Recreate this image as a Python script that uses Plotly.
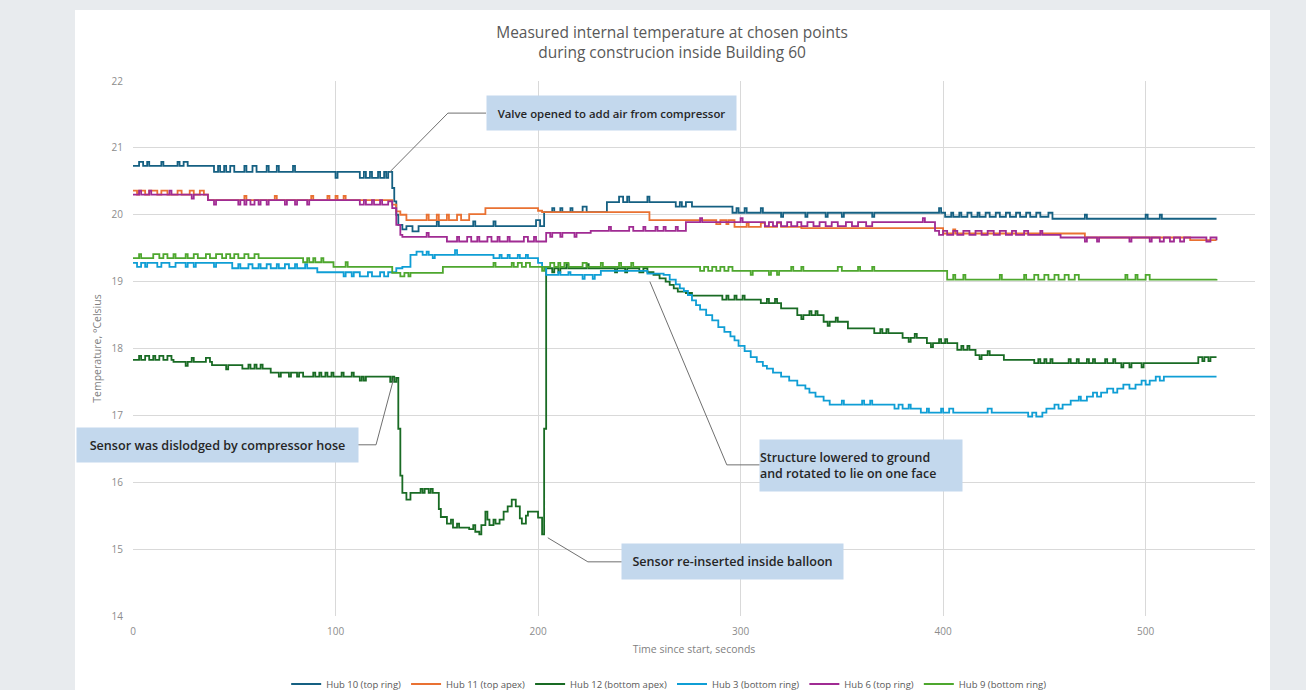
import plotly.graph_objects as go

# ---------------- data (time s, temperature °C) change points ----------------
series_names = ["Hub 10 (top ring)", "Hub 11 (top apex)", "Hub 12 (bottom apex)",
                "Hub 3 (bottom ring)", "Hub 6 (top ring)", "Hub 9 (bottom ring)"]
series_colors = ["#156082", "#E97132", "#196B24", "#0F9ED5", "#A02B93", "#4EA72E"]

hub10 = [(0,20.73),(3,20.79),(5,20.73),(7,20.79),(8,20.73),(14,20.79),(15,20.73),(22,20.79),(23,20.73),
         (25,20.79),(27,20.73),(40,20.64),(42,20.73),(43,20.64),(45,20.73),(46,20.64),(48,20.73),(50,20.64),
         (55,20.73),(56,20.64),(59,20.73),(61,20.64),(66,20.73),(67,20.64),(71,20.73),(72,20.64),(79,20.73),
         (80,20.64),(100,20.55),(101,20.64),(112,20.55),(114,20.64),(115,20.55),(117,20.64),(118,20.55),
         (121,20.64),(122,20.55),(124,20.64),(125,20.55),(126,20.64),(128,20.4),(129,20.2),(130,20.0),
         (131,19.85),(133,19.78),(135,19.83),(138,19.75),(141,19.83),(150,19.9),(151,19.83),(168,19.9),
         (169,19.83),(178,19.9),(179,19.83),(199,19.92),(201,19.83),(203,20.04),(207,20.1),(208,20.04),
         (211,20.1),(212,20.04),(216,20.1),(217,20.04),(222,20.12),(224,20.04),(234,20.19),(240,20.27),
         (242,20.19),(244,20.27),(245,20.19),(254,20.27),(255,20.19),(268,20.12),(270,20.19),(271,20.12),
         (273,20.19),(276,20.12),(296,20.03),(298,20.1),(299,20.03),(302,20.1),(303,20.03),(310,20.1),
         (311,20.03),(320,19.97),(321,20.03),(332,19.97),(333,20.03),(342,19.97),(343,20.03),(350,19.97),
         (351,20.03),(365,19.97),(366,20.03),(398,20.1),(399,20.03),(401,19.97),(404,20.03),(405,19.97),
         (408,20.03),(409,19.97),(412,20.03),(414,19.97),(417,20.03),(418,19.97),(421,20.03),(423,19.97),
         (426,20.03),(428,19.97),(431,20.03),(433,19.97),(436,20.03),(438,19.97),(441,20.03),(443,19.97),
         (446,20.03),(448,19.97),(452,20.03),(454,19.94),(470,20.0),(471,19.94),(500,20.0),(501,19.94),
         (507,20.0),(508,19.94),(535,19.94)]

hub11 = [(0,20.36),(2,20.3),(3,20.36),(6,20.3),(8,20.36),(12,20.3),(14,20.36),(17,20.3),(22,20.36),
         (24,20.3),(28,20.36),(30,20.3),(33,20.36),(35,20.3),(37,20.22),(55,20.28),(56,20.22),(70,20.28),
         (71,20.22),(88,20.28),(89,20.22),(96,20.28),(97,20.22),(100,20.28),(101,20.22),(104,20.28),
         (105,20.22),(128,20.15),(130,20.05),(132,20.0),(135,19.92),(145,20.0),(146,19.92),(150,20.0),
         (151,19.92),(155,20.0),(156,19.92),(160,20.0),(162,19.92),(166,20.01),(174,20.1),(200,20.06),
         (202,20.04),(255,19.92),(288,19.86),(290,19.92),(293,19.86),(294,19.92),(297,19.82),(303,19.88),
         (304,19.82),(310,19.88),(312,19.82),(318,19.88),(320,19.82),(330,19.8),(360,19.8),(400,19.72),
         (405,19.78),(406,19.72),(430,19.72),(470,19.66),(520,19.66),(522,19.62),(535,19.62)]

hub12 = [(0,17.83),(3,17.89),(4,17.83),(6,17.89),(8,17.83),(10,17.89),(11,17.83),(13,17.89),(15,17.83),
         (17,17.89),(19,17.83),(20,17.8),(26,17.74),(27,17.8),(29,17.86),(30,17.8),(36,17.86),(38,17.8),
         (39,17.75),(46,17.69),(47,17.75),(54,17.7),(57,17.76),(58,17.7),(60,17.76),(61,17.7),(63,17.76),
         (64,17.7),(68,17.64),(72,17.58),(73,17.64),(77,17.58),(78,17.64),(81,17.58),(82,17.64),(84,17.58),
         (89,17.64),(90,17.58),(92,17.64),(93,17.58),(95,17.64),(96,17.58),(98,17.64),(99,17.58),(103,17.64),
         (104,17.58),(108,17.64),(109,17.58),(112,17.52),(113,17.58),(114,17.52),(115,17.58),(127,17.5),
         (128,17.58),(129,17.5),(130,17.56),(131,16.8),(132,16.1),(133,15.84),(135,15.74),(137,15.84),
         (142,15.9),(143,15.84),(144,15.9),(146,15.84),(147,15.9),(148,15.84),(151,15.6),(152,15.48),
         (155,15.38),(157,15.44),(158,15.32),(160,15.38),(161,15.32),(166,15.3),(168,15.36),(169,15.26),
         (171,15.22),(172,15.36),(174,15.56),(175,15.44),(176,15.36),(178,15.44),(179,15.38),(181,15.44),
         (183,15.56),(185,15.64),(187,15.74),(189,15.64),(191,15.46),(192,15.38),(194,15.5),(195,15.56),
         (199,15.56),(200,15.47),(202,15.22),(203,16.8),(204,19.2),(207,19.14),(208,19.2),(210,19.14),
         (211,19.2),(214,19.26),(215,19.2),(224,19.26),(225,19.2),(238,19.14),(239,19.2),(243,19.14),
         (244,19.2),(250,19.14),(252,19.2),(254,19.14),(257,19.1),(260,19.05),(263,19.0),(265,18.95),
         (267,18.9),(269,18.85),(273,18.83),(276,18.79),(291,18.73),(293,18.79),(294,18.73),(297,18.79),
         (298,18.73),(301,18.79),(302,18.73),(310,18.68),(313,18.74),(314,18.68),(317,18.74),(318,18.68),
         (320,18.6),(328,18.5),(330,18.44),(331,18.5),(334,18.56),(335,18.5),(337,18.56),(338,18.5),
         (341,18.4),(343,18.34),(344,18.4),(347,18.46),(348,18.4),(353,18.3),(366,18.23),(369,18.29),
         (370,18.23),(372,18.29),(373,18.23),(380,18.16),(383,18.1),(384,18.16),(386,18.22),(387,18.16),
         (392,18.08),(394,18.02),(395,18.08),(398,18.14),(399,18.08),(401,18.14),(402,18.08),(407,17.98),
         (409,18.04),(410,17.98),(412,18.04),(413,17.98),(416,17.9),(418,17.84),(419,17.9),(422,17.96),
         (423,17.9),(430,17.83),(445,17.78),(447,17.84),(448,17.78),(450,17.84),(451,17.78),(453,17.84),
         (454,17.78),(462,17.84),(463,17.78),(466,17.84),(467,17.78),(471,17.84),(472,17.78),(474,17.84),
         (475,17.78),(480,17.84),(481,17.78),(484,17.84),(485,17.78),(488,17.72),(489,17.78),(492,17.72),
         (493,17.78),(498,17.72),(499,17.78),(526,17.87),(528,17.81),(529,17.87),(531,17.81),(532,17.87),
         (535,17.87)]

hub3 = [(0,19.28),(2,19.22),(4,19.28),(6,19.22),(7,19.28),(12,19.22),(14,19.28),(18,19.22),(21,19.28),
        (26,19.22),(27,19.28),(30,19.22),(31,19.28),(40,19.22),(41,19.28),(49,19.2),(52,19.26),(53,19.2),
        (57,19.26),(59,19.2),(62,19.26),(63,19.2),(66,19.26),(68,19.2),(71,19.26),(72,19.2),(75,19.26),
        (77,19.2),(80,19.26),(81,19.2),(85,19.26),(86,19.2),(91,19.14),(104,19.08),(105,19.14),(108,19.08),
        (109,19.14),(112,19.08),(116,19.14),(118,19.08),(122,19.14),(124,19.08),(126,19.14),(130,19.2),
        (133,19.22),(137,19.4),(140,19.45),(143,19.4),(145,19.45),(146,19.4),(148,19.35),(149,19.4),
        (159,19.47),(160,19.4),(178,19.35),(181,19.4),(182,19.35),(185,19.4),(186,19.35),(190,19.4),
        (191,19.35),(194,19.4),(195,19.35),(200,19.28),(202,19.22),(204,19.1),(210,19.14),(211,19.1),
        (215,19.14),(216,19.1),(222,19.04),(223,19.1),(227,19.04),(228,19.1),(231,19.16),(254,19.12),
        (262,19.1),(265,19.03),(268,18.96),(270,18.9),(272,18.86),(274,18.8),(276,18.72),(278,18.65),
        (280,18.58),(283,18.5),(286,18.42),(289,18.32),(292,18.25),(295,18.18),(297,18.12),(299,18.04),
        (302,17.96),(305,17.87),(308,17.8),(311,17.74),(313,17.7),(316,17.64),(320,17.58),(324,17.52),
        (328,17.45),(332,17.4),(334,17.34),(337,17.28),(341,17.22),(344,17.16),(350,17.22),(351,17.16),
        (360,17.22),(361,17.16),(364,17.22),(365,17.16),(376,17.1),(378,17.16),(380,17.1),(383,17.16),
        (384,17.1),(389,17.04),(392,17.1),(393,17.04),(399,17.1),(400,17.04),(403,17.1),(405,17.04),
        (422,17.1),(424,17.04),(442,16.98),(444,17.04),(446,16.98),(449,17.04),(451,17.1),(455,17.16),
        (457,17.1),(459,17.16),(463,17.22),(467,17.28),(468,17.22),(471,17.28),(474,17.34),(476,17.28),
        (478,17.34),(481,17.4),(484,17.34),(486,17.4),(489,17.46),(492,17.4),(495,17.46),(498,17.52),
        (500,17.46),(502,17.52),(505,17.58),(507,17.52),(509,17.58),(535,17.58)]

hub6 = [(0,20.3),(3,20.36),(4,20.3),(8,20.36),(9,20.3),(18,20.36),(19,20.3),(29,20.24),(30,20.3),
        (37,20.22),(40,20.15),(41,20.22),(52,20.15),(53,20.22),(55,20.15),(56,20.22),(58,20.15),(60,20.22),
        (62,20.15),(63,20.22),(66,20.15),(67,20.22),(75,20.15),(76,20.22),(80,20.15),(81,20.22),(86,20.15),
        (87,20.22),(112,20.15),(114,20.22),(115,20.15),(118,20.22),(119,20.15),(122,20.22),(123,20.15),
        (126,20.2),(128,20.1),(130,19.85),(132,19.7),(133,19.67),(145,19.73),(146,19.67),(155,19.6),
        (160,19.67),(161,19.6),(165,19.67),(167,19.6),(170,19.67),(171,19.6),(175,19.67),(177,19.6),
        (180,19.67),(181,19.6),(185,19.67),(186,19.6),(193,19.67),(195,19.6),(198,19.67),(199,19.6),
        (204,19.73),(206,19.67),(207,19.73),(211,19.67),(212,19.73),(218,19.67),(219,19.73),(226,19.76),
        (235,19.82),(236,19.76),(245,19.82),(247,19.76),(252,19.82),(253,19.76),(258,19.82),(259,19.76),
        (262,19.82),(263,19.76),(268,19.82),(269,19.76),(273,19.89),(280,19.95),(281,19.89),(300,19.95),
        (301,19.89),(312,19.83),(314,19.89),(316,19.83),(318,19.89),(320,19.83),(323,19.89),(325,19.83),
        (328,19.89),(330,19.83),(333,19.89),(336,19.83),(339,19.89),(342,19.83),(345,19.89),(348,19.83),
        (352,19.89),(355,19.83),(358,19.89),(362,19.83),(365,19.89),(390,19.95),(391,19.89),(396,19.76),
        (398,19.7),(400,19.76),(402,19.7),(405,19.76),(407,19.7),(410,19.76),(413,19.7),(416,19.76),
        (419,19.7),(422,19.76),(425,19.7),(428,19.76),(431,19.7),(434,19.76),(436,19.7),(440,19.76),
        (442,19.7),(448,19.76),(449,19.7),(458,19.66),(470,19.6),(471,19.66),(476,19.6),(477,19.66),
        (492,19.6),(493,19.66),(502,19.6),(503,19.66),(507,19.6),(509,19.66),(512,19.6),(514,19.66),
        (517,19.6),(519,19.66),(530,19.6),(532,19.66),(535,19.62)]

hub9 = [(0,19.35),(3,19.41),(4,19.35),(10,19.41),(13,19.35),(15,19.41),(17,19.35),(20,19.41),(21,19.35),
        (26,19.41),(27,19.35),(30,19.41),(32,19.35),(36,19.41),(38,19.35),(41,19.41),(44,19.35),(46,19.41),
        (48,19.35),(50,19.41),(52,19.35),(55,19.41),(57,19.35),(60,19.41),(62,19.35),(84,19.29),(86,19.35),
        (87,19.29),(89,19.35),(90,19.29),(93,19.35),(94,19.29),(99,19.22),(105,19.29),(106,19.22),
        (128,19.13),(132,19.08),(134,19.13),(136,19.08),(137,19.13),(153,19.22),(178,19.28),(179,19.22),
        (187,19.28),(188,19.22),(190,19.28),(192,19.22),(194,19.28),(196,19.22),(202,19.16),(203,19.22),
        (206,19.28),(208,19.22),(210,19.28),(211,19.22),(213,19.28),(215,19.22),(222,19.28),(224,19.22),
        (231,19.28),(232,19.22),(240,19.28),(241,19.22),(246,19.28),(247,19.22),(280,19.16),(282,19.22),
        (284,19.16),(286,19.22),(288,19.16),(290,19.22),(292,19.16),(294,19.22),(296,19.16),(305,19.1),
        (306,19.16),(314,19.1),(315,19.16),(318,19.1),(319,19.16),(325,19.22),(326,19.16),(330,19.22),
        (331,19.16),(348,19.22),(350,19.16),(358,19.22),(359,19.16),(365,19.22),(366,19.16),(402,19.03),
        (405,19.1),(406,19.03),(410,19.1),(411,19.03),(428,19.1),(429,19.03),(440,19.1),(441,19.03),
        (445,19.1),(447,19.03),(450,19.1),(452,19.03),(455,19.1),(457,19.03),(460,19.1),(462,19.03),
        (465,19.1),(467,19.03),(490,19.1),(491,19.03),(495,19.1),(496,19.03),(500,19.1),(502,19.03),
        (535,19.04)]

series_data = [hub10, hub11, hub12, hub3, hub6, hub9]

title_text = "Measured internal temperature at chosen points<br>during construcion inside Building 60"
x_title = "Time since start, seconds"
y_title = "Temperature, °Celsius"

# annotation texts, box positions (paper) and leader-line vertices (data coords)
notes = [
    {"text": "Valve opened to add air from compressor", "box": (0.4265, 0.9402), "w": 249, "h": 34,
     "align": "center", "size": 11.4, "path": [(174.3, 21.52), (155.5, 21.52), (126.8, 20.64)]},
    {"text": "Sensor was dislodged by compressor hose", "box": (0.0753, 0.3196), "w": 281, "h": 34,
     "align": "center", "size": 12.6, "path": [(111.0, 16.56), (120.0, 16.56), (128.8, 17.56)]},
    {"text": "Structure lowered to ground<br>and rotated to lie on one face", "box": (0.6488, 0.2813),
     "w": 202, "h": 51, "align": "left", "size": 12.4,
     "path": [(309.5, 16.26), (293.2, 16.26), (255.2, 19.0)]},
    {"text": "Sensor re-inserted inside balloon", "box": (0.5343, 0.1019), "w": 221, "h": 35,
     "align": "center", "size": 12.6, "path": [(241.4, 14.81), (224.6, 14.81), (204.8, 15.17)]},
]

FONT = "Open Sans"

fig = go.Figure()
for name, color, pts in zip(series_names, series_colors, series_data):
    fig.add_trace(go.Scatter(
        x=[p[0] for p in pts], y=[p[1] for p in pts], name=name, mode="lines",
        line=dict(color=color, width=1.8, shape="hv"), hoverinfo="x+y+name"))

shapes = [dict(type="rect", xref="paper", yref="paper", x0=-0.0517, x1=1.0134, y0=-0.2, y1=1.1327,
               fillcolor="white", line=dict(width=0), layer="below")]
annotations = []
for n in notes:
    p = n["path"]
    d = "M " + " L ".join(f"{x},{y}" for x, y in p)
    shapes.append(dict(type="path", xref="x", yref="y", path=d, line=dict(color="#6f6f6f", width=1)))
    annotations.append(dict(
        text=n["text"], xref="paper", yref="paper", x=n["box"][0], y=n["box"][1],
        xanchor="center", yanchor="middle", showarrow=False, width=n["w"], height=n["h"],
        bgcolor="#c3d8ed", borderpad=0, align=n["align"],
        font=dict(family=FONT, size=n["size"], color="#262626", weight=600)))

fig.update_layout(
    width=1306, height=690,
    margin=dict(l=133, r=51, t=81, b=74),
    paper_bgcolor="#e8ebee", plot_bgcolor="rgba(0,0,0,0)",
    font=dict(family=FONT, color="#595959"),
    title=dict(text=title_text, x=0.5146, xref="container", xanchor="center",
               y=0.945, yref="container", yanchor="top",
               font=dict(family=FONT, size=15.5, color="#595959")),
    showlegend=True,
    legend=dict(orientation="h", x=0.512, xref="container", xanchor="center",
                y=0.0087, yref="container", yanchor="middle",
                font=dict(family=FONT, size=9.5, color="#595959"), itemwidth=30,
                bgcolor="rgba(0,0,0,0)"),
    shapes=shapes, annotations=annotations,
)
fig.update_xaxes(range=[0, 554], dtick=100, tick0=0, showgrid=True, gridcolor="#d9d9d9", gridwidth=1,
                 zeroline=False, showline=False, ticks="", ticklabelstandoff=8,
                 tickfont=dict(family=FONT, size=10, color="#8c8c8c"),
                 title=dict(text=x_title, standoff=8, font=dict(family=FONT, size=10.5, color="#7f7f7f")),
                 automargin=False)
fig.update_yaxes(range=[14, 22], dtick=1, tick0=14, showgrid=True, gridcolor="#d9d9d9", gridwidth=1,
                 zeroline=False, showline=False, ticks="", ticklabelstandoff=9,
                 tickfont=dict(family=FONT, size=10, color="#8c8c8c"),
                 title=dict(text=y_title, standoff=7, font=dict(family=FONT, size=10.5, color="#7f7f7f")),
                 automargin=False)

fig.write_html("out.html", config={"displayModeBar": False},
               post_script="document.body.style.margin='0';document.body.style.overflow='hidden';")
